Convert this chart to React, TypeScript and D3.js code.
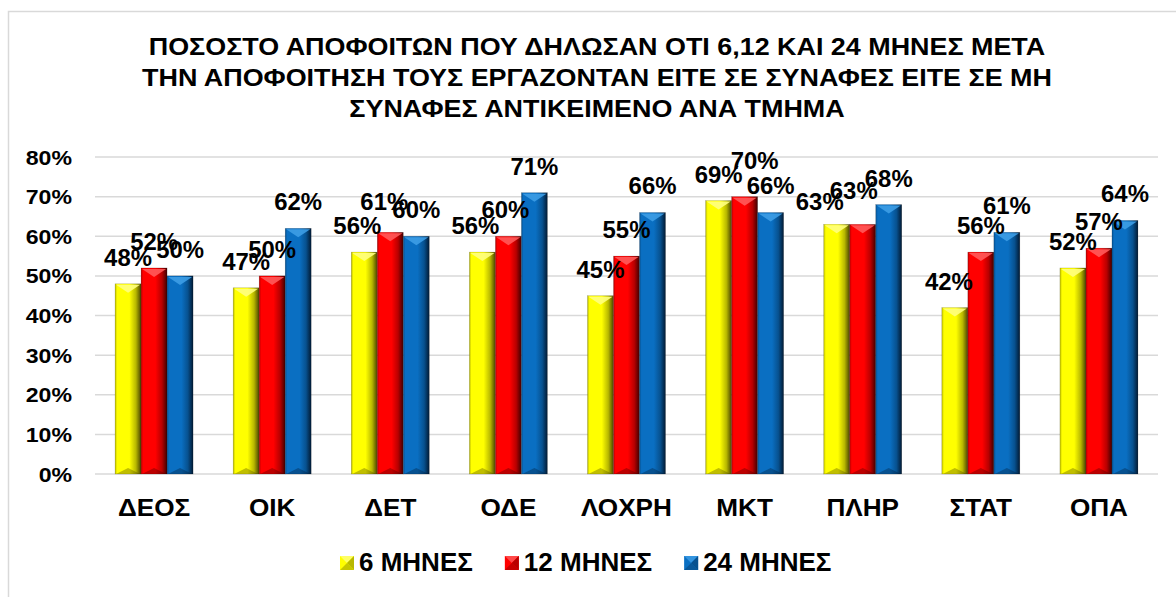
import React from 'react';
import * as d3 from 'd3';

const categories = ['ΔΕΟΣ', 'ΟΙΚ', 'ΔΕΤ', 'ΟΔΕ', 'ΛΟΧΡΗ', 'ΜΚΤ', 'ΠΛΗΡ', 'ΣΤΑΤ', 'ΟΠΑ'];
const seriesNames = ['6 ΜΗΝΕΣ', '12 ΜΗΝΕΣ', '24 ΜΗΝΕΣ'];
const months6 = [0.48, 0.47, 0.56, 0.56, 0.45, 0.69, 0.63, 0.42, 0.52];
const months12 = [0.52, 0.5, 0.61, 0.6, 0.55, 0.7, 0.63, 0.56, 0.57];
const months24 = [0.5, 0.62, 0.6, 0.71, 0.66, 0.66, 0.68, 0.61, 0.64];
const yTicks = [0, 0.1, 0.2, 0.3, 0.4, 0.5, 0.6, 0.7, 0.8];
const titleLines = [
  'ΠΟΣΟΣΤΟ ΑΠΟΦΟΙΤΩΝ ΠΟΥ ΔΗΛΩΣΑΝ ΟΤΙ 6,12 ΚΑΙ 24 ΜΗΝΕΣ ΜΕΤΑ',
  'ΤΗΝ ΑΠΟΦΟΙΤΗΣΗ ΤΟΥΣ ΕΡΓΑΖΟΝΤΑΝ ΕΙΤΕ ΣΕ ΣΥΝΑΦΕΣ ΕΙΤΕ ΣΕ ΜΗ',
  'ΣΥΝΑΦΕΣ ΑΝΤΙΚΕΙΜΕΝΟ ΑΝΑ ΤΜΗΜΑ',
];

// styling (not data)
const seriesValues = [months6, months12, months24];
const palette = [
  { main: '#ffff00', light: '#ffff80', edge: '#b8b800', dark: '#4a4400' },
  { main: '#ff0000', light: '#ff5a5a', edge: '#b80000', dark: '#400000' },
  { main: '#0a6fc2', light: '#3d9de6', edge: '#07518f', dark: '#021a33' },
];
// manual label nudges as in the source chart: [categoryIndex, seriesIndex, dx, dy]
const labelNudges: [number, number, number, number][] = [
  [2, 0, -7, 0],
  [2, 1, -6, -4],
  [3, 0, -7, 0],
  [3, 1, -3, 0],
  [5, 1, 10, -10],
  [6, 0, -17, 4],
  [6, 1, -9, -7],
  [7, 0, -6, 0],
];

const FONT = '"Liberation Sans", Arial, Helvetica, sans-serif';

function measure(text: string, font: string): number {
  const c = document.createElement('canvas').getContext('2d');
  if (!c) return text.length * 15;
  c.font = font;
  return c.measureText(text).width;
}

export default function App() {
  const W = 1176;
  const H = 597;
  const x0 = d3.scaleBand<string>().domain(categories).range([95, 1158]).paddingInner(0).paddingOuter(0);
  const x1 = d3.scaleBand<string>().domain(seriesNames).range([0, x0.bandwidth()]).paddingInner(0).paddingOuter(0.77);
  const y = d3.scaleLinear().domain([0, 0.8]).range([474, 157]);
  const fmt = d3.format('.0%');
  const bw = x1.bandwidth();

  // legend layout
  const legendFont = `bold 26px ${FONT}`;
  let lx = 340;
  const legendItems = seriesNames.map((s, i) => {
    const tw = measure(s, legendFont);
    const item = { s, i, x: lx, tw };
    lx += 15 + 4 + tw + 32;
    return item;
  });

  return (
    <svg
      width={W}
      height={H}
      style={{ position: 'absolute', left: 0, top: 0, background: '#ffffff' }}
      fontFamily={FONT}
    >
      <defs>
        {palette.map((p, i) => (
          <linearGradient key={i} id={`barGrad${i}`} x1="0" x2="1" y1="0" y2="0">
            <stop offset="0" stopColor={p.edge} />
            <stop offset="0.08" stopColor={p.main} />
            <stop offset="0.55" stopColor={p.main} />
            <stop offset="0.8" stopColor={p.edge} />
            <stop offset="1" stopColor={p.dark} />
          </linearGradient>
        ))}
      </defs>
      <rect x={0} y={0} width={W} height={H} fill="#ffffff" />
      <rect x={8.5} y={11.5} width={W + 20} height={H + 20} fill="none" stroke="#d9d9d9" strokeWidth={1.5} />

      {/* title */}
      {titleLines.map((t, i) => (
        <text
          key={i}
          transform={`translate(597, ${55 + i * 31}) scale(1.17, 1)`}
          textAnchor="middle"
          fontSize={23}
          fontWeight="bold"
          fill="#000"
        >
          {t}
        </text>
      ))}

      {/* gridlines */}
      {yTicks.map((t) => (
        <line key={t} x1={95} x2={1158} y1={y(t)} y2={y(t)} stroke="#d9d9d9" strokeWidth={1.5} />
      ))}
      {/* y tick labels */}
      {yTicks.map((t) => (
        <text
          key={t}
          transform={`translate(72, ${y(t) + 7.5}) scale(1.1, 1)`}
          textAnchor="end"
          fontSize={21}
          fontWeight="bold"
          fill="#000"
        >
          {fmt(t)}
        </text>
      ))}

      {/* bars */}
      {categories.map((c, ci) => (
        <g key={c} transform={`translate(${x0(c)}, 0)`}>
          {seriesNames.map((s, si) => {
            const v = seriesValues[si][ci];
            const bx = x1(s) as number;
            const top = y(v);
            const bottom = y(0);
            const p = palette[si];
            return (
              <g key={s}>
                <rect x={bx} y={top} width={bw} height={bottom - top} fill={`url(#barGrad${si})`} stroke="rgba(0,0,0,0.25)" strokeWidth={0.5} />
                <polygon
                  points={`${bx + 1},${top + 1} ${bx + bw - 1},${top + 1} ${bx + bw / 2},${top + 9}`}
                  fill={p.light}
                  opacity={0.9}
                />
                <polygon
                  points={`${bx + 1},${bottom} ${bx + bw - 1},${bottom} ${bx + bw / 2},${bottom - 6}`}
                  fill={p.dark}
                  opacity={0.35}
                />
              </g>
            );
          })}
        </g>
      ))}

      {/* data labels */}
      {categories.map((c, ci) =>
        seriesNames.map((s, si) => {
          const v = seriesValues[si][ci];
          const nudge = labelNudges.find((n) => n[0] === ci && n[1] === si);
          const dx = nudge ? nudge[2] : 0;
          const dy = nudge ? nudge[3] : 0;
          const cx = (x0(c) as number) + (x1(s) as number) + bw / 2 + dx;
          const by = y(v) - 18 + dy;
          return (
            <text
              key={`${c}-${s}`}
              transform={`translate(${cx}, ${by}) scale(1.04, 1)`}
              textAnchor="middle"
              fontSize={23}
              fontWeight="bold"
              fill="#000"
            >
              {fmt(v)}
            </text>
          );
        })
      )}

      {/* category labels */}
      {categories.map((c) => (
        <text
          key={c}
          transform={`translate(${(x0(c) as number) + x0.bandwidth() / 2}, 516) scale(1.09, 1)`}
          textAnchor="middle"
          fontSize={24}
          fontWeight="bold"
          fill="#000"
        >
          {c}
        </text>
      ))}

      {/* legend */}
      {legendItems.map((it) => {
        const p = palette[it.i];
        const mx = it.x;
        const my = 556;
        const m = 14;
        return (
          <g key={it.s}>
            <rect x={mx} y={my} width={m} height={m} fill={p.main} />
            <polygon points={`${mx},${my} ${mx + m},${my} ${mx + m / 2},${my + m / 2}`} fill={p.light} opacity={0.8} />
            <polygon points={`${mx + m},${my} ${mx + m},${my + m} ${mx + m / 2},${my + m / 2}`} fill={p.edge} />
            <polygon points={`${mx},${my + m} ${mx + m},${my + m} ${mx + m / 2},${my + m / 2}`} fill={p.edge} opacity={0.8} />
            <text x={mx + 19} y={571} fontSize={26} fontWeight="bold" fill="#000">
              {it.s}
            </text>
          </g>
        );
      })}
    </svg>
  );
}
